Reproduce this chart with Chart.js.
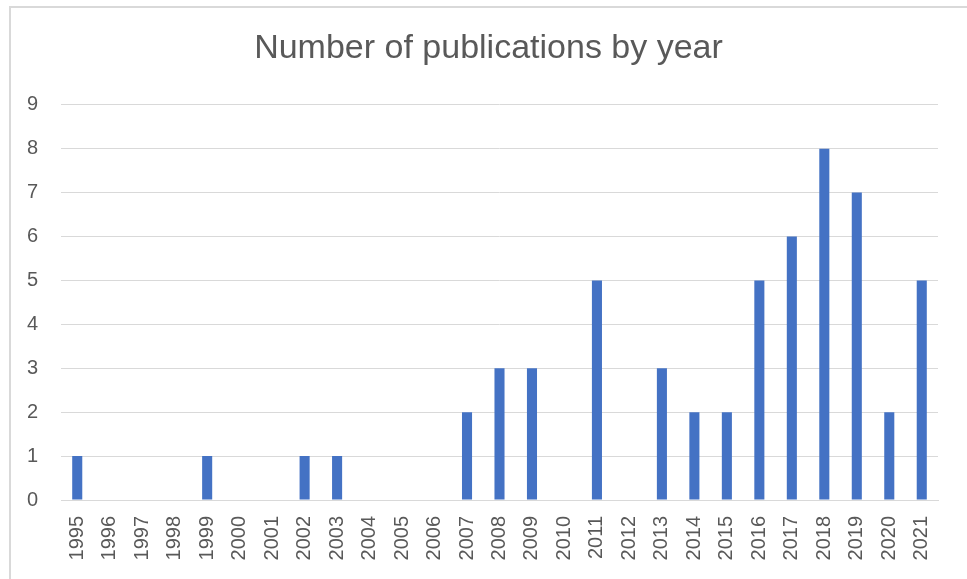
<!DOCTYPE html>
<html>
<head>
<meta charset="utf-8">
<script src="https://cdn.jsdelivr.net/npm/chart.js@4.4.0/dist/chart.umd.min.js"></script>
<style>
  html, body { margin: 0; padding: 0; background: #fff; }
  #wrap { position: relative; width: 967px; height: 579px; overflow: hidden; }
  #frame { position: absolute; left: 9px; top: 6px; width: 980px; height: 600px;
           border: 2px solid #d9d9d9; box-sizing: border-box; pointer-events: none; }
</style>
</head>
<body>
<div id="wrap">
  <canvas id="grafico" width="967" height="579"></canvas>
  <div id="frame"></div>
</div>
<script>
const years = ["1995", "1996", "1997", "1998", "1999", "2000", "2001", "2002", "2003", "2004",
  "2005", "2006", "2007", "2008", "2009", "2010", "2011", "2012", "2013", "2014",
  "2015", "2016", "2017", "2018", "2019", "2020", "2021"];
const publications = [1, 0, 0, 0, 1, 0, 0, 1, 1, 0,
  0, 0, 2, 3, 3, 0, 5, 0, 3, 2,
  2, 5, 6, 8, 7, 2, 5];
const yMin = 0;
const yMax = 9;

const gris = "#595959";
const fuente = "'Liberation Sans', Arial, sans-serif";

// centrar el título sobre el área del gráfico, no sobre todo el lienzo
const moverTitulo = {
  id: "moverTitulo",
  afterLayout(chart) {
    if (chart.titleBlock) chart.titleBlock.left = 39;
  }
};

const ctx = document.getElementById("grafico").getContext("2d");

new Chart(ctx, {
  type: "bar",
  data: {
    labels: years,
    datasets: [{
      label: "Publications",
      data: publications,
      backgroundColor: "#4472c4",
      borderWidth: 0,
      barPercentage: 0.31,
      categoryPercentage: 1
    }]
  },
  options: {
    responsive: false,
    animation: false,
    layout: { padding: { left: 10, right: 29, top: 6, bottom: 0 } },
    plugins: {
      legend: { display: false },
      tooltip: { enabled: false },
      title: {
        display: true,
        text: "Number of publications by year",
        color: gris,
        font: { family: fuente, size: 34, weight: "normal" },
        padding: { top: 22, bottom: 36 }
      }
    },
    scales: {
      x: {
        grid: { display: false, drawTicks: false },
        border: { display: true, color: "#d9d9d9", width: 1 },
        ticks: {
          color: gris,
          font: { family: fuente, size: 20 },
          minRotation: 90,
          maxRotation: 90,
          autoSkip: false,
          padding: 16
        },
        afterFit: function (scale) { scale.height = 79; }
      },
      y: {
        min: yMin,
        max: yMax,
        grid: { color: "#d9d9d9", lineWidth: 1, drawTicks: false },
        border: { display: false },
        ticks: {
          stepSize: 1,
          color: gris,
          font: { family: fuente, size: 20 },
          padding: 23
        },
        afterFit: function (scale) { scale.width = 51; }
      }
    }
  },
  plugins: [moverTitulo]
});
</script>
</body>
</html>
